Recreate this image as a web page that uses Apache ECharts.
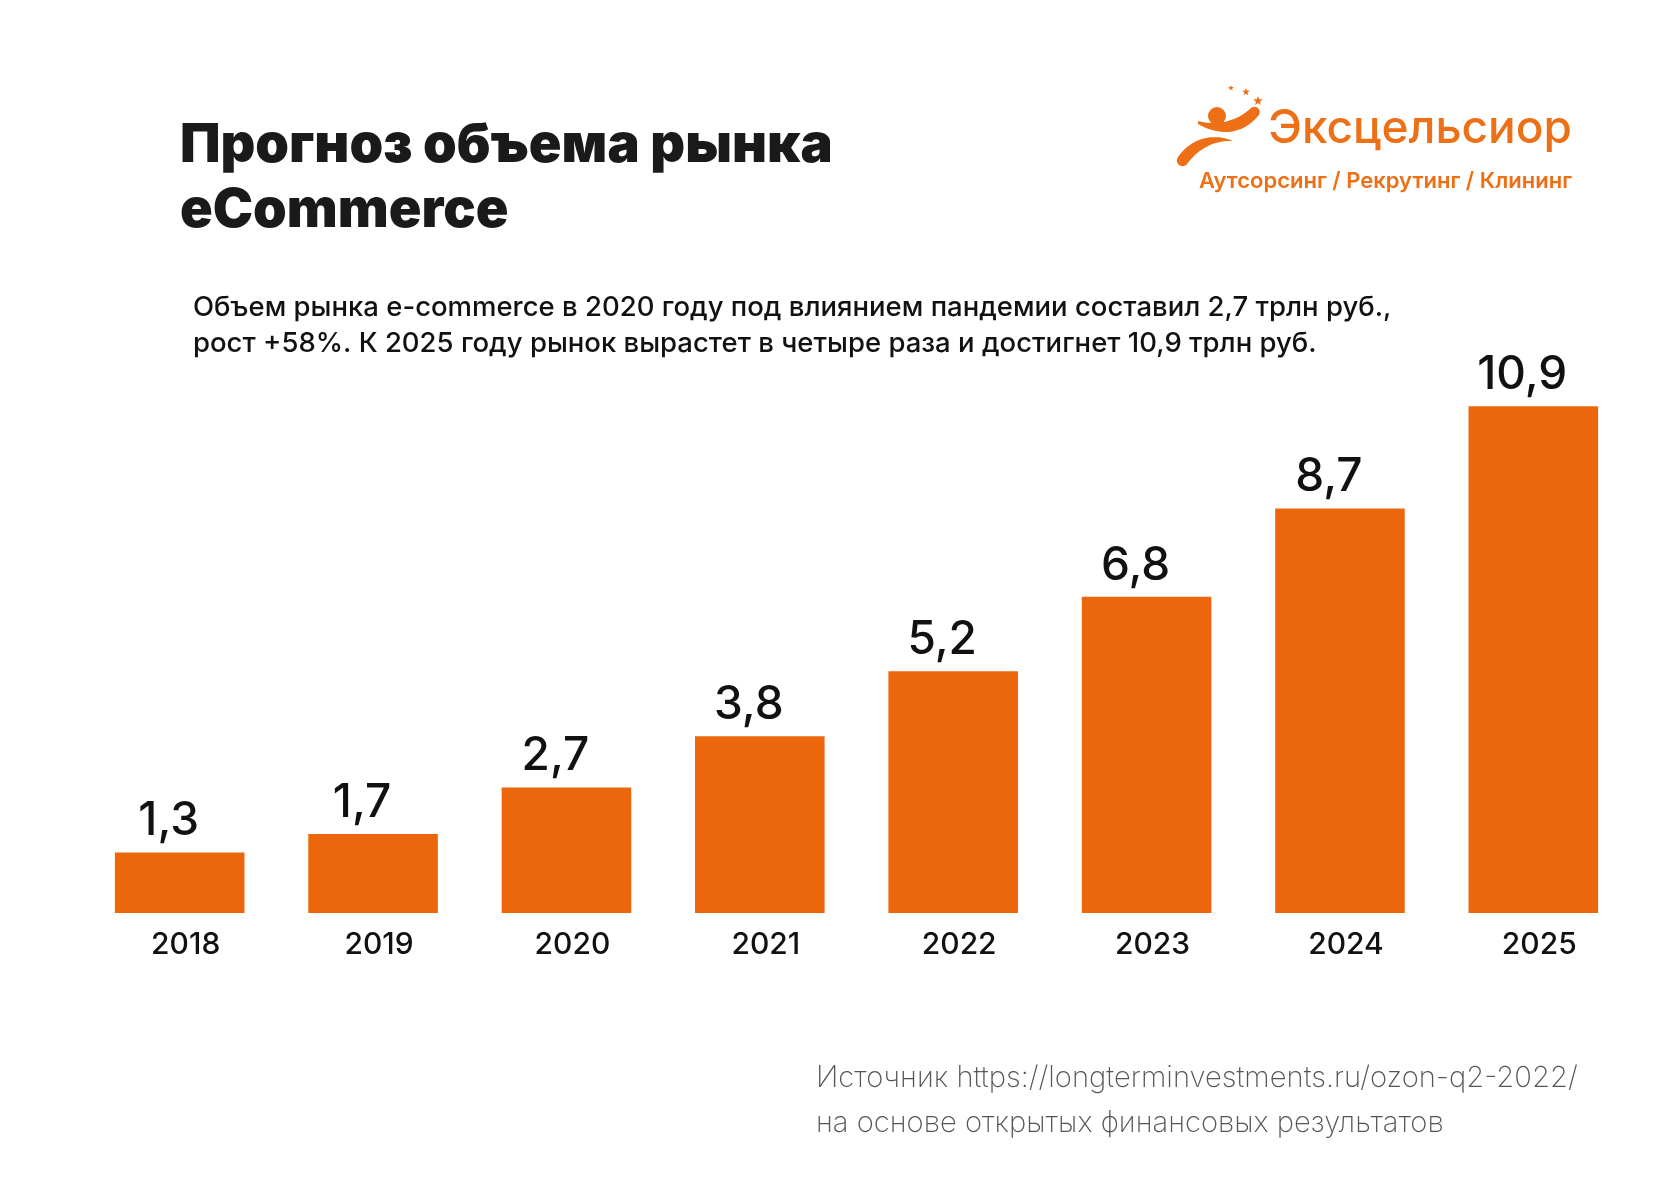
<!DOCTYPE html>
<html>
<head>
<meta charset="utf-8">
<script src="https://cdn.jsdelivr.net/npm/echarts@6/dist/echarts.min.js"></script>
<style>
html,body{margin:0;padding:0;background:#fff;}
#chart{width:1680px;height:1188px;}
</style>
</head>
<body>
<div id="chart"></div>
<script>
const years = ['2018','2019','2020','2021','2022','2023','2024','2025'];
const marketVolume = [1.3, 1.7, 2.7, 3.8, 5.2, 6.8, 8.7, 10.9];
const titleLines = ['Прогноз объема рынка', 'eCommerce'];
const subtitleLines = [
  'Объем рынка e-commerce в 2020 году под влиянием пандемии составил 2,7 трлн руб.,',
  'рост +58%. К 2025 году рынок вырастет в четыре раза и достигнет 10,9 трлн руб.'
];
const logoName = 'Эксцельсиор';
const logoTagline = 'Аутсорсинг / Рекрутинг / Клининг';
const sourceLines = [
  'Источник https://longterminvestments.ru/ozon-q2-2022/',
  'на основе открытых финансовых результатов'
];

const ORANGE = '#EC670B';
const LOGO = '#EE7016';
const FONT = 'Inter, "Noto Sans", sans-serif';

function starPoints(cx, cy, R, r) {
  const pts = [];
  for (let i = 0; i < 10; i++) {
    const a = -Math.PI / 2 + i * Math.PI / 5;
    const rr = i % 2 === 0 ? R : r;
    pts.push([cx + rr * Math.cos(a), cy + rr * Math.sin(a)]);
  }
  return pts;
}
function bez(p0, p1, p2, p3, n) {
  const out = [];
  for (let i = 0; i <= n; i++) {
    const t = i / n, u = 1 - t;
    out.push([
      u*u*u*p0[0] + 3*u*u*t*p1[0] + 3*u*t*t*p2[0] + t*t*t*p3[0],
      u*u*u*p0[1] + 3*u*u*t*p1[1] + 3*u*t*t*p2[1] + t*t*t*p3[1]
    ]);
  }
  return out;
}
function capArc(a, b, dir, n) {
  const cx = (a[0]+b[0])/2, cy = (a[1]+b[1])/2;
  const r = Math.hypot(b[0]-a[0], b[1]-a[1]) / 2;
  const a0 = Math.atan2(a[1]-cy, a[0]-cx);
  const out = [];
  for (let i = 1; i < n; i++) {
    const ang = a0 + dir * Math.PI * i / n;
    out.push([cx + r*Math.cos(ang), cy + r*Math.sin(ang)]);
  }
  return out;
}
// arm swoosh
const armTop = bez([1198,121],[1216,126],[1236,122],[1251,108],24);
const armBot = bez([1258,116],[1243,134],[1221,137],[1198,124],24);
const armShape = armTop.concat(capArc([1251,108],[1258,116],1,8), armBot);
// leg swoosh
const legTop = bez([1233,141],[1214,133],[1192,137],[1178,157],24);
const legBot = bez([1187,164],[1199,148],[1215,140],[1233,141],24);
const legShape = legTop.concat(capArc([1178,157],[1187,164],-1,8), legBot);

const chart = echarts.init(document.getElementById('chart'), null, {renderer: 'canvas'});

function txt(x, y, text, font, fill, align) {
  return {type:'text', x:x, y:y, style:{text:text, font:font, fill:fill, align:align || 'left', verticalAlign:'middle'}};
}

const graphics = [
  txt(180, 146, titleLines[0], '900 54px ' + FONT, '#1a1a1a'),
  txt(180, 211, titleLines[1], '900 54px ' + FONT, '#1a1a1a'),
  txt(193, 308, subtitleLines[0], '500 27.5px ' + FONT, '#111'),
  txt(193, 344, subtitleLines[1], '500 27.5px ' + FONT, '#111'),
  txt(1572, 129, logoName, '500 46px ' + FONT, LOGO, 'right'),
  txt(1572, 181, logoTagline, '600 22px ' + FONT, LOGO, 'right'),
  txt(816, 1078, sourceLines[0], '200 29.2px ' + FONT, '#555'),
  txt(816, 1123, sourceLines[1], '200 29.2px ' + FONT, '#555'),
  {type:'circle', shape:{cx:1217, cy:116, r:9}, style:{fill:LOGO}},
  {type:'polygon', shape:{points:armShape}, style:{fill:LOGO}},
  {type:'polygon', shape:{points:legShape}, style:{fill:LOGO}},
  {type:'polygon', shape:{points:starPoints(1231, 88, 3, 1.3)}, style:{fill:LOGO}},
  {type:'polygon', shape:{points:starPoints(1246, 92, 4, 1.7)}, style:{fill:LOGO}},
  {type:'polygon', shape:{points:starPoints(1258, 101, 5, 2.1)}, style:{fill:LOGO}}
];

chart.setOption({
  backgroundColor:'#fff',
  animation:false,
  grid:{left:83, right:50, top:355, bottom:275, containLabel:false},
  xAxis:{
    type:'category',
    data:years,
    axisLine:{show:false},
    axisTick:{show:false},
    axisLabel:{fontFamily:FONT, fontSize:30, fontWeight:500, color:'#111', margin:17,
      padding:[0,0,0,12]}
  },
  yAxis:{
    type:'value', min:0, max:12, show:false,
    splitLine:{show:false}
  },
  series:[{
    type:'bar',
    data:marketVolume,
    barCategoryGap:'33%',
    itemStyle:{color:ORANGE},
    label:{
      show:true, position:'top', distance:8, offset:[-11,0],
      fontFamily:FONT, fontSize:46, fontWeight:500, color:'#111',
      formatter: p => String(p.value).replace('.', ',')
    }
  }],
  graphic:graphics
});
</script>
</body>
</html>
